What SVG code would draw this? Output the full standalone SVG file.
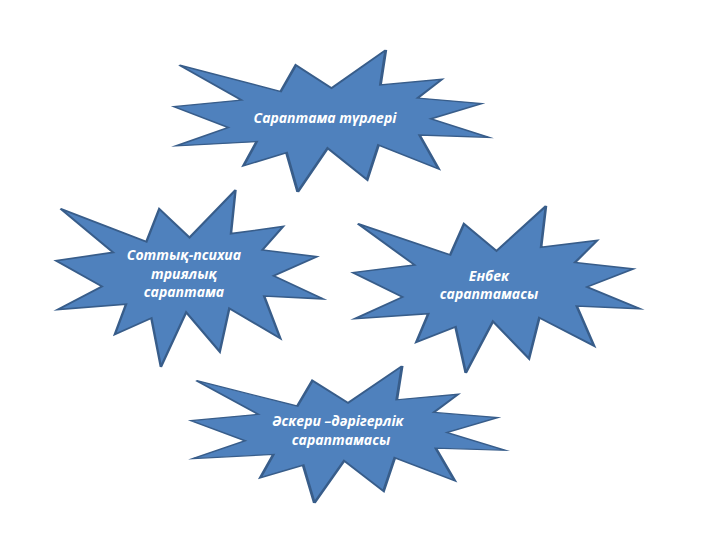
<svg xmlns="http://www.w3.org/2000/svg" width="720" height="540" viewBox="0 0 720 540">
<defs>
<style>
.seal{fill:#4F81BD;stroke:#385D8A;stroke-width:2;stroke-linejoin:miter;vector-effect:non-scaling-stroke}
.lbl{font-family:"Open Sans","Noto Sans","DejaVu Sans",sans-serif;font-size:14px;font-weight:bold;font-style:italic;fill:#FFFFFF;text-anchor:middle}
</style>
<path id="burst" d="M108,58 L145.22,0 L141.55,53.25 L183.8,44.57 L167.02,73.15 L210.97,81.37 L176.07,104.75 L216,132.9 L168.37,129.42 L181.45,180.95 L140.2,144.57 L132.47,197.37 L105.32,149.35 L84.85,216 L77.15,156.27 L47.62,176.17 L56.67,139.37 L1.35,145.87 L37.22,117.75 L0,86.15 L46.27,76.17 L3.7,22.95 L73.12,63.2 L83.52,22.95 Z"/>
</defs>
<rect width="720" height="540" fill="#FFFFFF"/>
<g id="connectors"></g>
<g id="node-types">
<use href="#burst" class="seal" transform="translate(174,50) scale(1.4583,0.6574)"/>
<text class="lbl" x="325" y="123">Сараптама түрлері</text>
</g>
<g id="node-forensic-psych">
<use href="#burst" class="seal" transform="translate(56,190) scale(1.2361,0.8194)"/>
<text class="lbl" x="184" y="260">Соттық-психиа</text>
<text class="lbl" x="184" y="279">триялық</text>
<text class="lbl" x="184" y="297">сараптама</text>
</g>
<g id="node-labour">
<use href="#burst" class="seal" transform="translate(353,206) scale(1.3287,0.7731)"/>
<text class="lbl" x="489" y="281">Енбек</text>
<text class="lbl" x="489" y="299">сараптамасы</text>
</g>
<g id="node-military">
<use href="#burst" class="seal" transform="translate(191,366) scale(1.4537,0.6343)"/>
<text class="lbl" x="338" y="426">Әскери –дәрігерлік</text>
<text class="lbl" x="341" y="445">сараптамасы</text>
</g>
</svg>
